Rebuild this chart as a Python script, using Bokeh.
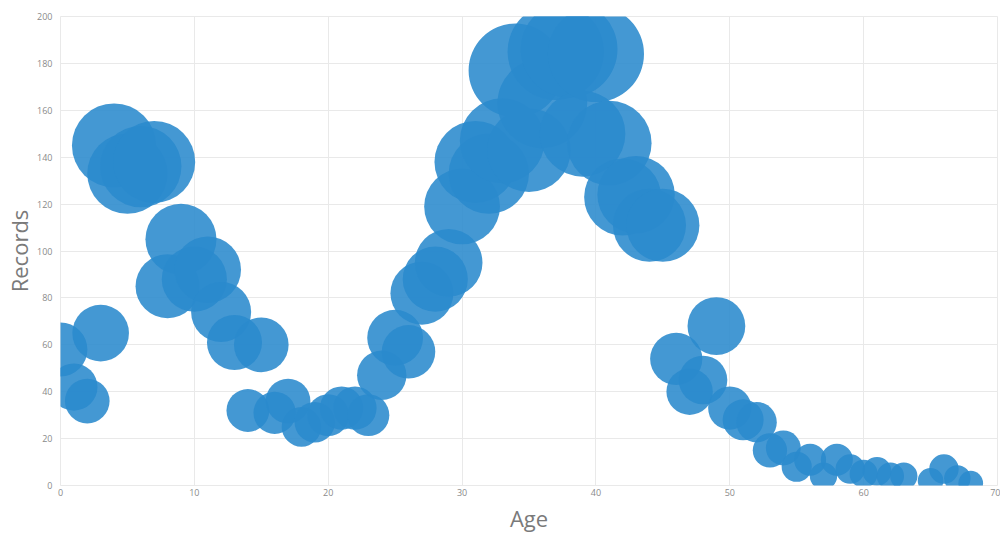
from bokeh.plotting import figure
from bokeh.models import ColumnDataSource, Range1d, FixedTicker
from bokeh.embed import file_html
from bokeh.resources import INLINE

ages = [0, 1, 2, 3, 4, 5, 6, 7, 8, 9, 10, 11, 12, 13, 14, 15, 16, 17, 18, 19,
        20, 21, 22, 23, 24, 25, 26, 27, 28, 29, 30, 31, 32, 33, 34, 35, 36, 37, 38, 39,
        40, 41, 42, 43, 44, 45, 46, 47, 48, 49, 50, 51, 52, 53, 54, 55, 56, 57, 58, 59,
        60, 61, 62, 63, 65, 66, 67, 68]
records = [58, 42, 36, 65, 145, 133, 136, 138, 85, 105, 88, 92, 74, 61, 32, 60, 31, 36, 25, 27,
           30, 33, 33, 30, 47, 63, 57, 82, 88, 95, 119, 138, 133, 147, 177, 143, 163, 185, 186, 150,
           184, 146, 123, 124, 111, 111, 54, 40, 45, 68, 33, 28, 27, 15, 16, 8, 11, 4, 11, 7,
           5, 6, 4, 4, 2, 7, 3, 1]

x_ticks = [0, 10, 20, 30, 40, 50, 60, 70]
y_ticks = [0, 20, 40, 60, 80, 100, 120, 140, 160, 180, 200]

# bubble diameter (screen px) derived from the record count
diam = [2 * (11.6 + 0.73 * (r ** 0.75)) for r in records]

src = ColumnDataSource(data=dict(age=ages, rec=records, d=diam))

p = figure(width=1000, height=535, output_backend="svg", toolbar_location=None,
           x_range=Range1d(0, 70), y_range=Range1d(0, 200),
           min_border_left=60, min_border_right=3, min_border_top=16, min_border_bottom=49)

p.scatter("age", "rec", size="d", source=src, fill_color="#2a8acd", fill_alpha=0.88,
          line_color=None)

p.xaxis.ticker = FixedTicker(ticks=x_ticks)
p.yaxis.ticker = FixedTicker(ticks=y_ticks)
for ax in (p.xaxis[0], p.yaxis[0]):
    ax.axis_line_color = None
    ax.major_tick_line_color = None
    ax.minor_tick_line_color = None
    ax.major_tick_out = 0
    ax.major_tick_in = 0
    ax.minor_tick_out = 0
    ax.minor_tick_in = 0
    ax.major_label_text_font = "Open Sans"
    ax.major_label_text_font_size = "9px"
    ax.major_label_text_color = "#8a8a8a"
    ax.axis_label_text_font = "Open Sans"
    ax.axis_label_text_font_size = "22px"
    ax.axis_label_text_font_style = "normal"
    ax.axis_label_text_color = "#7a7a7a"
p.xaxis.axis_label = "Age"
p.yaxis.axis_label = "Records"
p.xaxis.major_label_standoff = 3
p.yaxis.major_label_standoff = 8
p.xaxis.axis_label_standoff = 4
p.yaxis.axis_label_standoff = 0

p.xgrid.grid_line_color = "#e9e9e9"
p.ygrid.grid_line_color = "#e9e9e9"
p.outline_line_color = "#e9e9e9"
p.background_fill_color = "white"
p.border_fill_color = "white"

open("out.html", "w").write(file_html(p, INLINE))
